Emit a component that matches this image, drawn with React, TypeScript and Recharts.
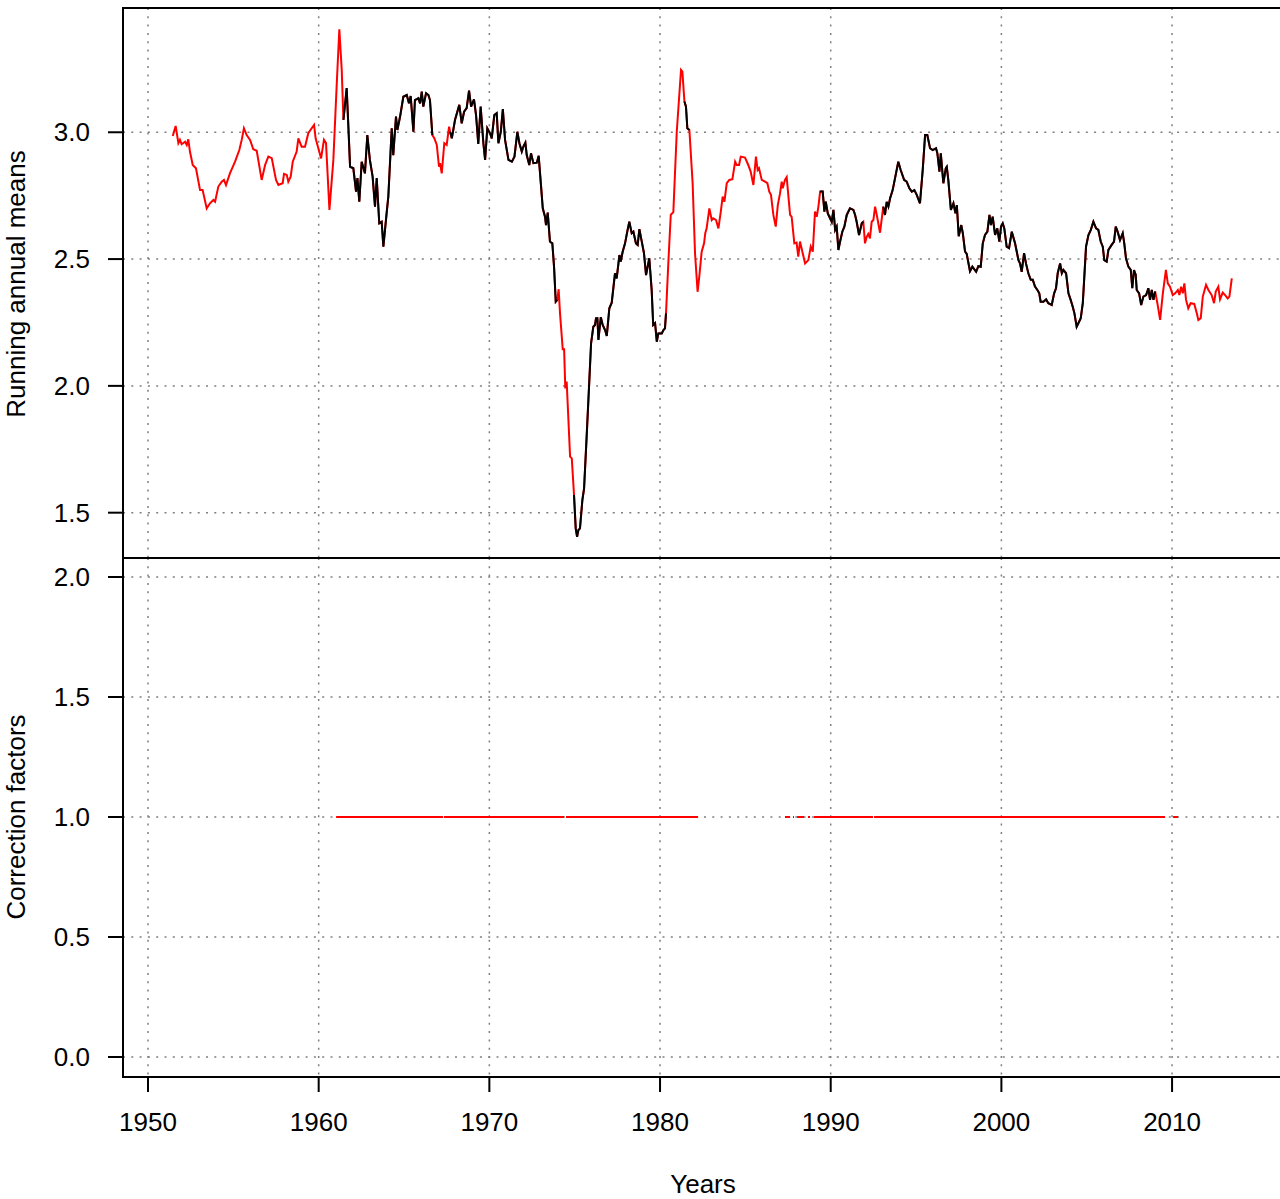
import { LineChart, Line, XAxis, YAxis, CartesianGrid, ReferenceArea } from 'recharts';

const FONT = '"Liberation Sans", Arial, Helvetica, sans-serif';
const RED = '#FF0000';
const BLACK = '#000000';
const GRID = '#7f7f7f';

const YEAR_TICKS = [1950, 1960, 1970, 1980, 1990, 2000, 2010];
const MEANS_TICKS = [1.5, 2.0, 2.5, 3.0];
const FACTOR_TICKS = [0, 0.5, 1.0, 1.5, 2.0];

const X_DOMAIN: [number, number] = [1948.535, 2016.5];
const MEANS_DOMAIN: [number, number] = [1.3213, 3.49];
const FACTOR_DOMAIN: [number, number] = [-0.0833, 2.0792];

// [year, running annual mean]
const RUNNING_MEANS: [number, number][] = [
  [1951.45, 2.985], [1951.62, 3.025], [1951.78, 2.957], [1951.87, 2.97], [1951.97, 2.953],
  [1952.17, 2.963], [1952.27, 2.95], [1952.36, 2.972], [1952.46, 2.923], [1952.62, 2.871],
  [1952.81, 2.858], [1953.05, 2.772], [1953.2, 2.772], [1953.44, 2.7], [1953.63, 2.72],
  [1953.83, 2.733], [1953.93, 2.726], [1954.12, 2.786], [1954.32, 2.805], [1954.45, 2.812],
  [1954.57, 2.792], [1954.8, 2.838], [1955.1, 2.884], [1955.35, 2.93], [1955.49, 2.97],
  [1955.62, 3.016], [1955.78, 2.989], [1955.98, 2.97], [1956.17, 2.933], [1956.37, 2.927],
  [1956.46, 2.891], [1956.66, 2.812], [1956.86, 2.871], [1957.05, 2.904], [1957.25, 2.898],
  [1957.5, 2.812], [1957.64, 2.792], [1957.89, 2.799], [1957.97, 2.836], [1958.13, 2.832],
  [1958.22, 2.805], [1958.36, 2.825], [1958.48, 2.884], [1958.71, 2.924], [1958.81, 2.976],
  [1959.0, 2.943], [1959.2, 2.943], [1959.39, 2.996], [1959.59, 3.016], [1959.73, 3.029],
  [1959.82, 2.976], [1959.98, 2.937], [1960.14, 2.897], [1960.31, 2.97], [1960.43, 2.957],
  [1960.63, 2.694], [1960.86, 2.891], [1961.06, 3.193], [1961.21, 3.406], [1961.35, 3.246],
  [1961.45, 3.049], [1961.64, 3.174], [1961.74, 3.022], [1961.84, 2.864], [1962.03, 2.858],
  [1962.19, 2.766], [1962.27, 2.819], [1962.38, 2.726], [1962.52, 2.884], [1962.71, 2.838],
  [1962.85, 2.989], [1963.0, 2.891], [1963.16, 2.825], [1963.3, 2.707], [1963.4, 2.819],
  [1963.55, 2.641], [1963.69, 2.647], [1963.79, 2.549], [1963.98, 2.68], [1964.08, 2.746],
  [1964.28, 3.016], [1964.37, 2.91], [1964.53, 3.062], [1964.61, 3.009], [1964.77, 3.062],
  [1964.96, 3.14], [1965.16, 3.147], [1965.29, 3.114], [1965.39, 3.143], [1965.55, 3.002],
  [1965.64, 3.127], [1965.84, 3.134], [1965.94, 3.114], [1966.04, 3.16], [1966.13, 3.101],
  [1966.29, 3.154], [1966.43, 3.147], [1966.52, 3.127], [1966.66, 2.989], [1966.78, 2.976],
  [1966.92, 2.95], [1967.05, 2.864], [1967.11, 2.878], [1967.21, 2.838], [1967.36, 2.957],
  [1967.5, 2.95], [1967.64, 3.022], [1967.7, 3.002], [1967.8, 2.976], [1967.99, 3.049],
  [1968.24, 3.108], [1968.38, 3.035], [1968.52, 3.081], [1968.67, 3.095], [1968.81, 3.164],
  [1968.93, 3.101], [1969.1, 3.13], [1969.22, 3.068], [1969.35, 2.954], [1969.49, 3.101],
  [1969.65, 2.957], [1969.75, 2.891], [1969.88, 3.016], [1970.04, 2.996], [1970.14, 2.976],
  [1970.29, 3.068], [1970.43, 3.075], [1970.53, 2.957], [1970.67, 3.002], [1970.79, 3.091],
  [1970.92, 2.97], [1971.12, 2.891], [1971.32, 2.884], [1971.47, 2.904], [1971.64, 3.002],
  [1971.76, 2.957], [1971.9, 2.924], [1971.99, 2.943], [1972.11, 2.959], [1972.19, 2.91],
  [1972.34, 2.871], [1972.44, 2.917], [1972.58, 2.878], [1972.78, 2.88], [1972.89, 2.907],
  [1972.97, 2.838], [1973.13, 2.7], [1973.26, 2.667], [1973.32, 2.634], [1973.42, 2.683],
  [1973.55, 2.569], [1973.69, 2.562], [1973.79, 2.47], [1973.89, 2.332], [1973.98, 2.339],
  [1974.06, 2.381], [1974.14, 2.286], [1974.3, 2.144], [1974.38, 2.144], [1974.45, 1.99],
  [1974.53, 2.017], [1974.73, 1.721], [1974.83, 1.714], [1974.96, 1.57], [1975.06, 1.438],
  [1975.14, 1.405], [1975.22, 1.432], [1975.31, 1.438], [1975.45, 1.55], [1975.55, 1.596],
  [1975.7, 1.8], [1975.84, 1.997], [1975.96, 2.168], [1976.09, 2.233], [1976.19, 2.24],
  [1976.25, 2.267], [1976.33, 2.267], [1976.39, 2.181], [1976.53, 2.271], [1976.64, 2.24],
  [1976.78, 2.22], [1976.88, 2.197], [1977.03, 2.306], [1977.17, 2.328], [1977.36, 2.444],
  [1977.46, 2.424], [1977.62, 2.516], [1977.7, 2.49], [1977.81, 2.529], [1977.95, 2.562],
  [1978.08, 2.608], [1978.2, 2.647], [1978.34, 2.602], [1978.44, 2.608], [1978.59, 2.562],
  [1978.69, 2.556], [1978.79, 2.618], [1978.93, 2.569], [1979.06, 2.523], [1979.18, 2.437],
  [1979.37, 2.503], [1979.51, 2.378], [1979.6, 2.24], [1979.71, 2.247], [1979.81, 2.174],
  [1979.9, 2.207], [1980.1, 2.207], [1980.2, 2.22], [1980.29, 2.227], [1980.35, 2.286],
  [1980.49, 2.49], [1980.63, 2.675], [1980.78, 2.685], [1980.98, 3.002], [1981.23, 3.246],
  [1981.31, 3.239], [1981.43, 3.121], [1981.52, 3.101], [1981.6, 3.016], [1981.72, 3.009],
  [1981.91, 2.799], [1982.05, 2.523], [1982.2, 2.371], [1982.3, 2.431], [1982.44, 2.529],
  [1982.58, 2.562], [1982.65, 2.602], [1982.73, 2.621], [1982.89, 2.7], [1983.03, 2.654],
  [1983.12, 2.661], [1983.28, 2.654], [1983.42, 2.621], [1983.56, 2.687], [1983.67, 2.746],
  [1983.77, 2.726], [1983.91, 2.799], [1984.06, 2.812], [1984.24, 2.815], [1984.4, 2.884],
  [1984.49, 2.871], [1984.63, 2.871], [1984.73, 2.904], [1984.98, 2.9], [1985.17, 2.871],
  [1985.31, 2.845], [1985.47, 2.792], [1985.62, 2.904], [1985.72, 2.851], [1985.8, 2.858],
  [1985.96, 2.812], [1986.15, 2.805], [1986.29, 2.799], [1986.4, 2.766], [1986.5, 2.753],
  [1986.64, 2.674], [1986.78, 2.628], [1986.9, 2.713], [1987.03, 2.759], [1987.13, 2.805],
  [1987.19, 2.779], [1987.32, 2.812], [1987.42, 2.823], [1987.62, 2.674], [1987.71, 2.667],
  [1987.87, 2.562], [1988.0, 2.565], [1988.1, 2.51], [1988.2, 2.569], [1988.36, 2.523],
  [1988.5, 2.483], [1988.69, 2.496], [1988.83, 2.549], [1988.95, 2.529], [1989.08, 2.687],
  [1989.18, 2.667], [1989.28, 2.707], [1989.38, 2.766], [1989.53, 2.766], [1989.63, 2.687],
  [1989.71, 2.726], [1989.83, 2.68], [1989.96, 2.661], [1990.06, 2.647], [1990.16, 2.694],
  [1990.26, 2.615], [1990.35, 2.628], [1990.45, 2.536], [1990.55, 2.569], [1990.68, 2.608],
  [1990.8, 2.628], [1990.94, 2.674], [1991.13, 2.7], [1991.33, 2.694], [1991.43, 2.674],
  [1991.52, 2.647], [1991.66, 2.595], [1991.82, 2.641], [1991.91, 2.647], [1992.01, 2.562],
  [1992.11, 2.588], [1992.2, 2.599], [1992.3, 2.582], [1992.4, 2.647], [1992.5, 2.654],
  [1992.6, 2.707], [1992.7, 2.674], [1992.89, 2.604], [1993.08, 2.707], [1993.18, 2.674],
  [1993.28, 2.726], [1993.38, 2.707], [1993.48, 2.74], [1993.63, 2.772], [1993.77, 2.819],
  [1993.96, 2.884], [1994.1, 2.851], [1994.3, 2.812], [1994.45, 2.805], [1994.61, 2.779],
  [1994.75, 2.766], [1994.9, 2.772], [1995.04, 2.753], [1995.23, 2.72], [1995.39, 2.851],
  [1995.53, 2.989], [1995.66, 2.989], [1995.82, 2.937], [1995.98, 2.93], [1996.17, 2.937],
  [1996.25, 2.917], [1996.37, 2.845], [1996.45, 2.917], [1996.6, 2.799], [1996.74, 2.858],
  [1996.8, 2.864], [1996.89, 2.812], [1997.04, 2.694], [1997.19, 2.72], [1997.31, 2.68],
  [1997.39, 2.713], [1997.5, 2.59], [1997.65, 2.634], [1997.74, 2.602], [1997.87, 2.53],
  [1997.97, 2.52], [1998.16, 2.452], [1998.3, 2.47], [1998.52, 2.45], [1998.65, 2.472],
  [1998.79, 2.47], [1998.91, 2.562], [1999.04, 2.595], [1999.18, 2.608], [1999.3, 2.674],
  [1999.39, 2.634], [1999.49, 2.667], [1999.63, 2.595], [1999.76, 2.621], [1999.88, 2.569],
  [1999.98, 2.628], [2000.08, 2.641], [2000.17, 2.621], [2000.31, 2.549], [2000.45, 2.543],
  [2000.61, 2.608], [2000.8, 2.562], [2001.0, 2.496], [2001.09, 2.483], [2001.19, 2.45],
  [2001.33, 2.523], [2001.44, 2.483], [2001.58, 2.444], [2001.72, 2.418], [2001.84, 2.418],
  [2001.97, 2.392], [2002.11, 2.378], [2002.22, 2.365], [2002.3, 2.332], [2002.46, 2.332],
  [2002.62, 2.341], [2002.75, 2.326], [2002.95, 2.319], [2003.09, 2.365], [2003.2, 2.385],
  [2003.3, 2.444], [2003.44, 2.483], [2003.54, 2.444], [2003.63, 2.457], [2003.79, 2.444],
  [2003.93, 2.365], [2004.06, 2.339], [2004.18, 2.312], [2004.28, 2.286], [2004.41, 2.233],
  [2004.51, 2.247], [2004.65, 2.267], [2004.77, 2.326], [2004.86, 2.431], [2004.96, 2.549],
  [2005.1, 2.595], [2005.24, 2.615], [2005.39, 2.647], [2005.55, 2.621], [2005.68, 2.615],
  [2005.82, 2.569], [2005.94, 2.549], [2006.03, 2.496], [2006.17, 2.49], [2006.27, 2.536],
  [2006.46, 2.556], [2006.6, 2.569], [2006.7, 2.628], [2006.81, 2.608], [2006.95, 2.575],
  [2007.11, 2.602], [2007.2, 2.562], [2007.3, 2.503], [2007.44, 2.47], [2007.58, 2.457],
  [2007.67, 2.385], [2007.77, 2.457], [2007.87, 2.438], [2007.93, 2.378], [2008.07, 2.365],
  [2008.19, 2.319], [2008.32, 2.352], [2008.48, 2.358], [2008.61, 2.385], [2008.71, 2.339],
  [2008.81, 2.378], [2008.91, 2.339], [2009.01, 2.372], [2009.14, 2.326], [2009.3, 2.26],
  [2009.46, 2.365], [2009.64, 2.457], [2009.75, 2.404], [2009.88, 2.391], [2010.04, 2.358],
  [2010.18, 2.365], [2010.34, 2.378], [2010.43, 2.358], [2010.53, 2.391], [2010.63, 2.365],
  [2010.72, 2.404], [2010.82, 2.339], [2010.95, 2.306], [2011.09, 2.326], [2011.3, 2.323],
  [2011.45, 2.286], [2011.54, 2.26], [2011.68, 2.267], [2011.8, 2.352], [2011.99, 2.398],
  [2012.13, 2.378], [2012.32, 2.358], [2012.46, 2.326], [2012.56, 2.372], [2012.71, 2.391],
  [2012.81, 2.341], [2012.97, 2.368], [2013.11, 2.358], [2013.26, 2.345], [2013.36, 2.352],
  [2013.5, 2.424],
];

// periods drawn over in black (complete years)
const BLACK_SPANS: [number, number][] = [
  [1961.45, 1966.66],
  [1967.7, 1973.98],
  [1974.96, 1980.35],
  [1981.43, 1981.72],
  [1989.38, 1991.91],
  [1993.08, 2009.01],
];

// [from, to, correction factor]
const FACTOR_SPANS: [number, number, number][] = [
  [1961.02, 1967.29, 1.0],
  [1967.34, 1974.38, 1.0],
  [1974.49, 1982.23, 1.0],
  [1987.32, 1987.62, 1.0],
  [1987.79, 1987.85, 1.0],
  [1988.03, 1988.44, 1.0],
  [1988.67, 1988.79, 1.0],
  [1989.02, 1992.48, 1.0],
  [1992.54, 2009.59, 1.0],
  [2010.06, 2010.35, 1.0],
];

const meansData = RUNNING_MEANS.map(([year, v]) => ({
  year,
  red: v,
  black: BLACK_SPANS.some(([a, b]) => year >= a && year <= b) ? v : null,
}));

const factorData: { year: number; cf: number | null }[] = [];
FACTOR_SPANS.forEach(([a, b, v], i) => {
  factorData.push({ year: a, cf: v }, { year: b, cf: v });
  const next = FACTOR_SPANS[i + 1];
  if (next) factorData.push({ year: (b + next[0]) / 2, cf: null });
});

const tickStyle = { fontSize: 26, fill: '#000', fontFamily: FONT };
const tickLine = { stroke: '#000', strokeWidth: 2 };

const titleStyle = {
  position: 'absolute' as const,
  fontFamily: FONT,
  fontSize: 26,
  lineHeight: '26px',
  color: '#000',
  whiteSpace: 'nowrap' as const,
};

export default function App() {
  return (
    <div
      style={{
        position: 'absolute',
        left: 0,
        top: 0,
        width: 1280,
        height: 1199,
        overflow: 'hidden',
        background: '#fff',
      }}
    >
      {/* top panel: running annual means */}
      <div style={{ position: 'absolute', left: 0, top: 0 }}>
        <LineChart
          width={1300}
          height={558}
          data={meansData}
          margin={{ top: 8, right: 17, bottom: 0, left: 0 }}
        >
          <CartesianGrid stroke={GRID} strokeWidth={1.5} strokeDasharray="2 6.3" />
          <XAxis
            type="number"
            dataKey="year"
            domain={X_DOMAIN}
            allowDataOverflow
            ticks={YEAR_TICKS}
            interval={0}
            hide
          />
          <YAxis
            type="number"
            domain={MEANS_DOMAIN}
            allowDataOverflow
            ticks={MEANS_TICKS}
            interval={0}
            width={123}
            axisLine={false}
            tickLine={tickLine}
            tickSize={15}
            tickMargin={18}
            tick={tickStyle}
            tickFormatter={(v: number) => v.toFixed(1)}
          />
          <ReferenceArea
            x1={X_DOMAIN[0]}
            x2={X_DOMAIN[1]}
            y1={MEANS_DOMAIN[0]}
            y2={MEANS_DOMAIN[1]}
            fill="none"
            stroke="#000"
            strokeWidth={2}
          />
          <Line
            type="linear"
            dataKey="red"
            stroke={RED}
            strokeWidth={2}
            dot={false}
            activeDot={false}
            isAnimationActive={false}
          />
          <Line
            type="linear"
            dataKey="black"
            stroke={BLACK}
            strokeWidth={2}
            dot={false}
            activeDot={false}
            connectNulls={false}
            isAnimationActive={false}
          />
        </LineChart>
      </div>

      {/* bottom panel: correction factors */}
      <div style={{ position: 'absolute', left: 0, top: 550 }}>
        <LineChart
          width={1300}
          height={587}
          data={factorData}
          margin={{ top: 8, right: 17, bottom: 0, left: 0 }}
        >
          <CartesianGrid stroke={GRID} strokeWidth={1.5} strokeDasharray="2 6.3" />
          <XAxis
            type="number"
            dataKey="year"
            domain={X_DOMAIN}
            allowDataOverflow
            ticks={YEAR_TICKS}
            interval={0}
            height={60}
            axisLine={false}
            tickLine={tickLine}
            tickSize={15}
            tickMargin={21}
            tick={tickStyle}
          />
          <YAxis
            type="number"
            domain={FACTOR_DOMAIN}
            allowDataOverflow
            ticks={FACTOR_TICKS}
            interval={0}
            width={123}
            axisLine={false}
            tickLine={tickLine}
            tickSize={15}
            tickMargin={18}
            tick={tickStyle}
            tickFormatter={(v: number) => v.toFixed(1)}
          />
          <ReferenceArea
            x1={X_DOMAIN[0]}
            x2={X_DOMAIN[1]}
            y1={FACTOR_DOMAIN[0]}
            y2={FACTOR_DOMAIN[1]}
            fill="none"
            stroke="#000"
            strokeWidth={2}
          />
          <Line
            type="linear"
            dataKey="cf"
            stroke={RED}
            strokeWidth={2}
            dot={false}
            activeDot={false}
            connectNulls={false}
            isAnimationActive={false}
          />
        </LineChart>
      </div>

      <div
        style={{
          ...titleStyle,
          left: 16,
          top: 284,
          transform: 'translate(-50%, -50%) rotate(-90deg)',
        }}
      >
        Running annual means
      </div>
      <div
        style={{
          ...titleStyle,
          left: 16,
          top: 817,
          transform: 'translate(-50%, -50%) rotate(-90deg)',
        }}
      >
        Correction factors
      </div>
      <div
        style={{
          ...titleStyle,
          left: 703,
          top: 1184,
          transform: 'translate(-50%, -50%)',
        }}
      >
        Years
      </div>
    </div>
  );
}
